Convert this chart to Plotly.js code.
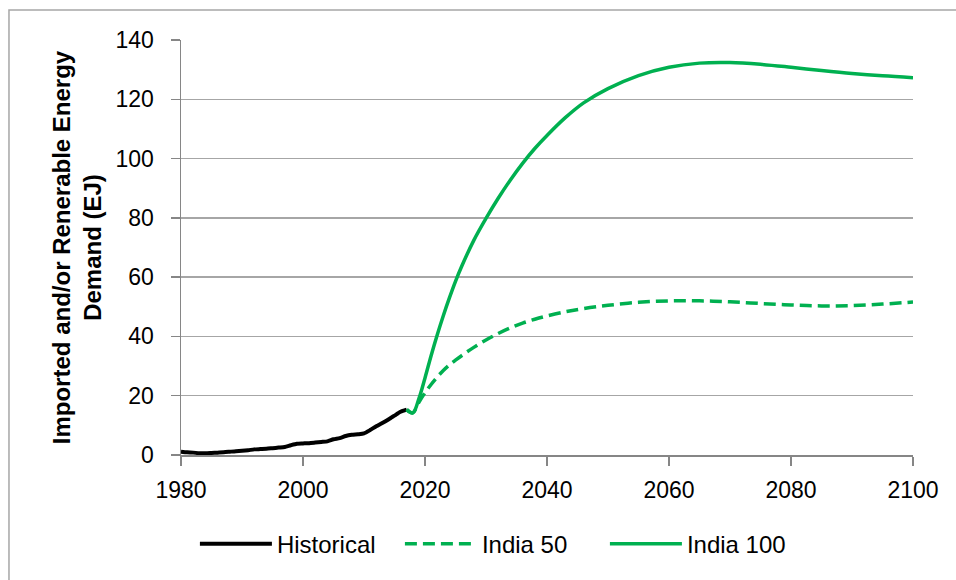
<!DOCTYPE html>
<html>
<head>
<meta charset="utf-8">
<script src="https://cdn.plot.ly/plotly-3.0.1.min.js"></script>
<style>html,body{margin:0;padding:0;background:#fff;}#chart{width:956px;height:580px;}</style>
</head>
<body>
<div id="chart"></div>
<script>
// ---- data ----
var histYears = [1980,1981,1982,1983,1984,1985,1986,1987,1988,1989,1990,1991,1992,1993,1994,1995,1996,1997,1998,1999,2000,2001,2002,2003,2004,2005,2006,2007,2008,2009,2010,2011,2012,2013,2014,2015,2016,2017];
var histValues = [1.1,0.9,0.8,0.6,0.6,0.7,0.8,0.9,1.1,1.3,1.4,1.6,1.9,2.0,2.1,2.3,2.5,2.7,3.3,3.8,3.9,4.0,4.2,4.4,4.6,5.3,5.7,6.4,6.8,7.0,7.3,8.4,9.7,10.8,12.0,13.3,14.6,15.3];

var scenYears = [2017,2018,2019,2020,2021,2022,2023,2024,2025,2026,2028,2030,2032,2034,2036,2038,2040,2043,2046,2050,2055,2060,2065,2070,2075,2080,2085,2090,2095,2100];
var india50  = [15.3,14.2,17.8,21.0,23.8,26.3,28.5,30.4,32.0,33.5,36.3,38.8,41.0,42.9,44.5,45.8,46.9,48.3,49.4,50.5,51.5,52.0,52.0,51.7,51.1,50.6,50.3,50.4,50.9,51.6];
var india100 = [15.3,14.2,19.0,26.0,33.5,40.5,47.0,53.0,58.6,63.6,72.4,79.8,86.6,92.8,98.4,103.4,107.8,113.8,118.8,123.6,128.0,130.8,132.2,132.4,131.8,130.8,129.7,128.7,127.9,127.3];

var seriesNames = ["Historical","India 50","India 100"];
var xTicks = [1980,2000,2020,2040,2060,2080,2100];
var yTicks = [0,20,40,60,80,100,120,140];
var yTitle = "Imported and/or Renerable Energy<br>Demand (EJ)";

var green = "#00b050";
var traces = [
  {x: histYears, y: histValues, name: seriesNames[0], type: "scatter", mode: "lines",
   line: {color: "#000000", width: 4, shape: "spline", smoothing: 0.6}},
  {x: scenYears, y: india50, name: seriesNames[1], type: "scatter", mode: "lines",
   line: {color: green, width: 3.5, dash: "12px,6px", shape: "spline", smoothing: 1}},
  {x: scenYears, y: india100, name: seriesNames[2], type: "scatter", mode: "lines",
   line: {color: green, width: 3.5, shape: "spline", smoothing: 1}}
];

var fontFam = "Liberation Sans, Arial, sans-serif";
var layout = {
  width: 956, height: 580,
  paper_bgcolor: "#ffffff", plot_bgcolor: "#ffffff",
  margin: {l: 181, r: 43, t: 40, b: 125, pad: 0},
  font: {family: fontFam, size: 23, color: "#000000"},
  showlegend: true,
  legend: {orientation: "h", x: 0.019, xanchor: "left", y: -0.215, yanchor: "middle",
           font: {family: fontFam, size: 24, color: "#000000"}, itemwidth: 72,
           entrywidth: 118, entrywidthmode: "pixels", traceorder: "normal"},
  xaxis: {range: [1980, 2100], tickvals: xTicks, ticktext: xTicks.map(String),
          showgrid: false, zeroline: false, showline: true, linecolor: "#868686", linewidth: 1.5,
          ticks: "outside", ticklen: 9, tickcolor: "#868686", tickwidth: 1.5,
          ticklabelstandoff: 5, tickfont: {family: fontFam, size: 23, color: "#000000"}},
  yaxis: {range: [0, 140], tickvals: yTicks, ticktext: yTicks.map(String),
          showgrid: true, gridcolor: "#a6a6a6", gridwidth: 1.5, zeroline: false,
          showline: true, linecolor: "#868686", linewidth: 1.5,
          ticks: "outside", ticklen: 9, tickcolor: "#868686", tickwidth: 1.5,
          ticklabelstandoff: 12, tickfont: {family: fontFam, size: 23, color: "#000000"},
          title: {text: yTitle, standoff: 7, font: {family: fontFam, size: 24, color: "#000000", weight: "bold"}}},
  shapes: [
    {type: "rect", xref: "paper", yref: "paper", x0: -0.235, x1: 1.08, y0: -0.33, y1: 1.0723,
     line: {color: "#a6a6a6", width: 1.5}, fillcolor: "rgba(0,0,0,0)", layer: "below"}
  ]
};

Plotly.newPlot("chart", traces, layout, {displayModeBar: false, staticPlot: true});
</script>
</body>
</html>
